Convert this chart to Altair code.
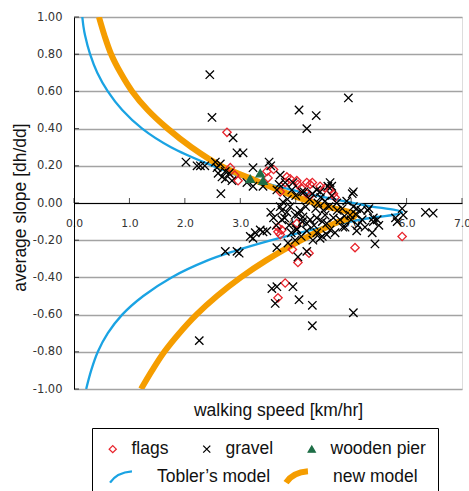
import altair as alt
import pandas as pd

# ---------------- data ----------------
flags_x = [2.76, 2.82, 2.96, 2.90, 3.48, 3.50, 3.60, 3.84, 3.81, 3.90, 4.02, 4.04, 4.20, 4.26,
           4.30, 4.10, 4.44, 4.53, 4.62, 4.68, 4.71, 4.20, 4.26, 3.72, 4.02, 3.68, 3.75, 3.68,
           3.72, 3.94, 4.04, 4.24, 3.81, 3.68, 5.07, 5.92]
flags_y = [0.38, 0.19, 0.12, 0.15, 0.17, 0.135, 0.18, 0.14, 0.11, 0.13, 0.12, 0.10, 0.11, 0.10,
           0.11, 0.08, 0.09, 0.08, 0.07, 0.05, 0.03, 0.05, 0.04, 0.06, -0.11, -0.13, -0.145, -0.155,
           -0.17, -0.25, -0.32, -0.27, -0.43, -0.51, -0.24, -0.18]

gravel_x = [2.45, 2.49, 2.87, 2.94, 3.05, 4.06, 4.37, 4.20, 4.95, 2.02, 2.22, 2.28, 2.36, 2.55,
            2.58, 2.64, 2.60, 2.73, 2.67, 2.73, 2.65, 2.80, 2.85, 3.12, 3.23, 3.23, 3.41, 3.52,
            3.55, 3.66, 3.72, 3.81, 3.95, 3.93, 4.11, 4.38, 4.44, 4.62, 4.65, 4.58, 5.02, 5.04,
            3.77, 3.90, 3.75, 3.72, 3.75, 3.84, 3.99, 4.08, 4.13, 4.26, 4.20, 4.38, 4.56, 4.62,
            4.71, 4.53, 4.75, 4.80, 4.89, 4.98, 5.20, 5.25, 5.38, 5.40, 5.47, 3.70, 3.85, 4.00,
            4.05, 4.12, 4.15, 4.18, 4.25, 4.30, 4.33, 4.36, 4.40, 4.45, 4.48, 4.50, 4.53, 4.60,
            4.65, 4.68, 4.74, 4.84, 4.88, 4.92, 5.00, 5.04, 5.08, 5.12, 5.18, 5.32, 5.50, 3.80,
            3.88, 3.92, 4.02, 4.10, 4.20, 4.38, 4.48, 4.56, 4.44, 4.31, 4.85, 5.10, 3.18, 3.27,
            3.41, 3.36, 3.48, 3.23, 2.73, 2.94, 2.98, 3.66, 3.86, 3.99, 4.02, 4.04, 4.20, 5.43,
            5.83, 5.80, 5.92, 5.94, 6.34, 6.48, 5.10, 5.30, 5.40, 3.57, 3.66, 3.95, 3.63, 4.06,
            4.30, 5.04, 4.30, 2.26, 3.60, 3.65, 3.55]
gravel_y = [0.69, 0.46, 0.35, 0.27, 0.27, 0.50, 0.47, 0.40, 0.565, 0.22, 0.20, 0.20, 0.20, 0.22,
            0.19, 0.21, 0.16, 0.17, 0.14, 0.13, 0.05, 0.16, 0.12, 0.11, 0.09, 0.19, 0.09, 0.22,
            0.20, 0.07, 0.15, 0.11, 0.11, 0.07, 0.06, 0.07, 0.06, 0.11, 0.09, 0.09, 0.05, 0.06,
            0.005, -0.02, -0.04, -0.02, -0.09, -0.05, -0.065, -0.04, -0.075, -0.09, -0.11, -0.08, -0.11, -0.145,
            -0.16, -0.065, -0.04, -0.09, -0.13, -0.065, -0.09, -0.13, -0.16, -0.10, -0.09, 0.10, 0.02, 0.04,
            -0.06, -0.10, 0.06, -0.02, 0.02, 0.05, -0.12, -0.03, 0.00, 0.03, -0.10, -0.04, 0.01, -0.02,
            0.04, -0.08, 0.00, -0.03, -0.07, 0.01, -0.09, -0.02, -0.06, -0.12, -0.04, -0.03, -0.12, -0.08,
            -0.12, -0.16, -0.14, -0.18, -0.15, -0.16, -0.18, -0.17, -0.19, -0.20, -0.13, -0.15, -0.18, -0.16,
            -0.155, -0.145, -0.15, -0.19, -0.26, -0.26, -0.27, -0.24, -0.215, -0.20, -0.145, -0.29, -0.26, -0.22,
            -0.10, -0.08, -0.03, -0.065, -0.05, -0.055, -0.03, -0.04, -0.08, -0.46, -0.45, -0.45, -0.54, -0.52,
            -0.55, -0.59, -0.66, -0.74, -0.08, -0.12, -0.05]

pier_x = [3.18, 3.36, 3.41]
pier_y = [0.13, 0.16, 0.12]

# model curves, read point by point (upper branch, tip, lower branch)
tobler_x = [0.15, 0.17, 0.20, 0.29, 0.42, 0.61, 0.87, 1.23, 1.75, 2.50, 3.05, 3.60, 4.20, 4.75,
            5.30, 5.92, 5.20, 4.50, 4.00, 3.50, 2.90, 2.40, 1.76, 1.25, 0.87, 0.61, 0.43, 0.31, 0.22]
tobler_y = [1.00, 0.95, 0.90, 0.80, 0.70, 0.60, 0.50, 0.40, 0.30, 0.20, 0.137, 0.095, 0.052, 0.017,
            -0.015, -0.05, -0.088, -0.13, -0.166, -0.205, -0.258, -0.31, -0.40, -0.50, -0.60, -0.70, -0.80, -0.90, -1.00]

newmodel_x = [0.45, 0.55, 0.67, 0.84, 1.05, 1.33, 1.69, 2.12, 2.65, 3.18, 3.77, 4.44, 5.07,
              4.70, 4.10, 3.46, 3.01, 2.58, 2.21, 1.90, 1.63, 1.41, 1.21]
newmodel_y = [1.00, 0.90, 0.80, 0.70, 0.60, 0.50, 0.40, 0.30, 0.20, 0.133, 0.06, -0.01, -0.065,
              -0.11, -0.20, -0.31, -0.40, -0.50, -0.60, -0.70, -0.80, -0.90, -1.00]

x_ticks = [0, 1, 2, 3, 4, 5, 6, 7]
y_ticks = [-1.0, -0.8, -0.6, -0.4, -0.2, 0.0, 0.2, 0.4, 0.6, 0.8, 1.0]

point_names = ["flags", "gravel", "wooden pier"]
model_names = ["Tobler\u2019s model", "new model"]

# ---------------- tables ----------------
pts = pd.concat([
    pd.DataFrame({"speed": flags_x, "slope": flags_y, "series": point_names[0]}),
    pd.DataFrame({"speed": gravel_x, "slope": gravel_y, "series": point_names[1]}),
    pd.DataFrame({"speed": pier_x, "slope": pier_y, "series": point_names[2]}),
], ignore_index=True)
pts["k"] = range(len(pts))

curves = pd.concat([
    pd.DataFrame({"speed": tobler_x, "slope": tobler_y, "model": model_names[0],
                  "idx": range(len(tobler_x))}),
    pd.DataFrame({"speed": newmodel_x, "slope": newmodel_y, "model": model_names[1],
                  "idx": range(len(newmodel_x))}),
], ignore_index=True)

xtick_df = pd.DataFrame({"speed": x_ticks, "slope": [0] * len(x_ticks)})
ytick_df = pd.DataFrame({"speed": [0] * len(y_ticks), "slope": y_ticks})

# ---------------- styling ----------------
BLUE = "#1aa3e3"
ORANGE = "#f59d00"
RED = "#e8242c"
GREEN = "#1e6e46"
GRID = "#a3a3a3"
LABEL_FONT = "DejaVu Sans"
TEXT_FONT = "Liberation Sans"

x_scale = alt.Scale(domain=[0, 7], nice=False, zero=False)
y_scale = alt.Scale(domain=[-1, 1], nice=False, zero=False)

x_axis = alt.Axis(values=x_ticks, format=".1f", offset=-186, grid=False, ticks=False,
                  domainColor="black", domainWidth=1,
                  labelFont=LABEL_FONT, labelFontSize=10.8, labelColor="#333333",
                  labelPadding=14, labelFlush=False, labelOverlap=False,
                  title="walking speed [km/hr]", titleFont=TEXT_FONT, titleFontSize=17.5,
                  titleFontWeight="normal", titleColor="#111111",
                  titleX=204, titleY=207, titleAlign="center", titleBaseline="middle")
y_axis = alt.Axis(values=y_ticks,
                  labelExpr="replace(format(datum.value, '.2f'), '\u2212', '-')",
                  grid=True, gridColor=GRID, gridWidth=1.3, ticks=False,
                  domainColor="black", domainWidth=1,
                  labelFont=LABEL_FONT, labelFontSize=11.5, labelColor="#333333",
                  labelPadding=12, labelOverlap=False, labelFlush=False,
                  title="average slope [dh/dd]", titleFont=TEXT_FONT, titleFontSize=17.5,
                  titleFontWeight="normal", titleColor="#111111",
                  titleX=-54, titleY=190, titleAngle=270, titleAlign="center",
                  titleBaseline="middle")

X = alt.X("speed:Q", scale=x_scale, axis=x_axis)
Y = alt.Y("slope:Q", scale=y_scale, axis=y_axis)

leg_pts = alt.Legend(orient="none", legendX=18, legendY=411, direction="horizontal",
                     columns=3, title="\u00a0", titleOrient="bottom", titleColor="white",
                     titleFontSize=10, titlePadding=30, padding=12,
                     strokeColor="black",
                     labelFont=TEXT_FONT, labelFontSize=17.5, labelColor="#111111",
                     labelOffset=10, columnPadding=29, symbolSize=50,
                     symbolStrokeWidth=1.3, labelLimit=0)
leg_lines = alt.Legend(orient="none", legendX=33, legendY=446, direction="horizontal",
                       columns=2, title=None, padding=0, clipHeight=28,
                       symbolType="M-1,0.52C-0.6,-0.1 0,-0.45 1,-0.52", symbolSize=480,
                       symbolFillColor="transparent",
                       labelFont=TEXT_FONT, labelFontSize=17.5, labelColor="#111111",
                       labelOffset=22, columnPadding=12, labelLimit=0)

lines = alt.Chart(curves).mark_line(interpolate="catmull-rom", clip=True).encode(
    x=X, y=Y,
    order=alt.Order("idx:Q"),
    stroke=alt.Stroke("model:N", scale=alt.Scale(domain=model_names, range=[BLUE, ORANGE]),
                      legend=leg_lines),
    strokeWidth=alt.StrokeWidth("model:N", scale=alt.Scale(domain=model_names, range=[2.3, 6]),
                                legend=leg_lines),
)

points = alt.Chart(pts).mark_point(filled=False, size=70, strokeWidth=1.3, opacity=1).encode(
    x=X, y=Y,
    order=alt.Order("k:Q"),
    color=alt.Color("series:N", scale=alt.Scale(domain=point_names, range=[RED, "black", GREEN]),
                    legend=leg_pts),
    fill=alt.Fill("series:N", scale=alt.Scale(domain=point_names,
                                              range=["transparent", "transparent", GREEN]),
                  legend=leg_pts),
    shape=alt.Shape("series:N", scale=alt.Scale(domain=point_names,
                                                range=["diamond", "M-1,-1L1,1M-1,1L1,-1",
                                                       "triangle-up"]),
                    legend=leg_pts),
)

xticks = alt.Chart(xtick_df).mark_tick(orient="vertical", size=5, thickness=1, color="black",
                                       yOffset=-2.5).encode(x=X, y=Y)
yticks = alt.Chart(ytick_df).mark_tick(orient="horizontal", size=5, thickness=1, color="black",
                                       xOffset=2.5).encode(x=X, y=Y)

chart = alt.layer(lines, points, xticks, yticks).properties(
    width=388, height=372,
    padding={"left": 74, "top": 17, "right": 7, "bottom": 102},
    autosize=alt.AutoSizeParams(type="none"),
).configure_view(stroke=GRID, strokeWidth=1.3).configure(background="white")

chart.save("out.html", embed_options={"renderer": "svg", "actions": False})
